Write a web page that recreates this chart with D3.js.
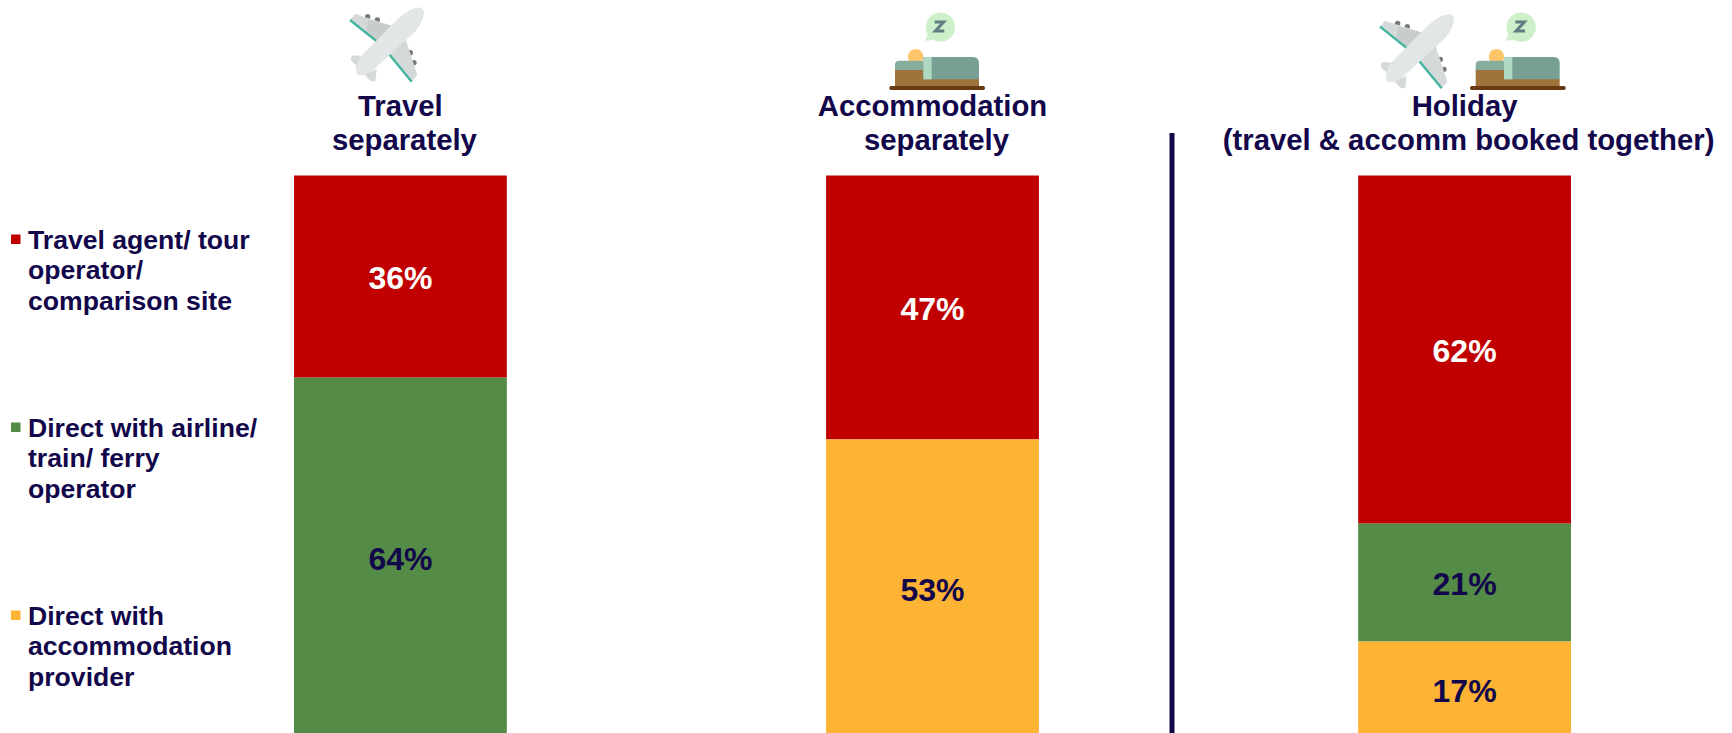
<!DOCTYPE html>
<html>
<head>
<meta charset="utf-8">
<script src="https://d3js.org/d3.v7.min.js"></script>
<style>
  html, body { margin: 0; padding: 0; background: #fff; }
  svg { display: block; }
  text { font-family: "Liberation Sans", Arial, sans-serif; font-weight: bold; }
</style>
</head>
<body>
<div id="chart"></div>
<script>
// values
const groups = ['Travel separately', 'Accommodation separately', 'Holiday'];
const seriesNames = ['agent', 'airline', 'accommodation'];
const agentValues = [36, 47, 62];
const airlineValues = [64, 0, 21];
const accommodationValues = [0, 53, 17];

const titleLines = [
  ['Travel', 'separately'],
  ['Accommodation', 'separately'],
  ['Holiday', '(travel & accomm booked together)']
];
const legendLines = [
  ['Travel agent/ tour', 'operator/', 'comparison site'],
  ['Direct with airline/', 'train/ ferry', 'operator'],
  ['Direct with', 'accommodation', 'provider']
];

const navy = '#12074a';
const seriesColors = ['#c00000', '#548b47', '#fdb333'];
const labelColors = ['#ffffff', navy, navy];

const width = 1732, height = 733;

const rows = groups.map((g, i) => ({
  group: g,
  agent: agentValues[i],
  airline: airlineValues[i],
  accommodation: accommodationValues[i]
}));

const x = d3.scaleBand().domain(groups).range([294, 1571]).paddingInner(0.6);
const y = d3.scaleLinear().domain([0, 100]).range([175.5, 737]);
const color = d3.scaleOrdinal().domain(seriesNames).range(seriesColors);
const labelColor = d3.scaleOrdinal().domain(seriesNames).range(labelColors);

const svg = d3.select('#chart').append('svg')
    .attr('width', width)
    .attr('height', height)
    .attr('viewBox', [0, 0, width, height].join(' '));

const defs = svg.append('defs');
defs.append('filter').attr('id', 'soft')
    .attr('x', '-300%').attr('width', '700%')
    .append('feGaussianBlur').attr('stdDeviation', 1.6);

// stacked bars
const stacked = d3.stack().keys(seriesNames)(rows);

const layer = svg.selectAll('.layer')
  .data(stacked)
  .enter().append('g')
    .attr('class', 'layer')
    .attr('fill', d => color(d.key));

layer.selectAll('rect')
  .data(d => d.filter(p => p[1] > p[0]))
  .enter().append('rect')
    .attr('x', d => x(d.data.group))
    .attr('y', d => y(d[0]))
    .attr('width', x.bandwidth())
    .attr('height', d => y(d[1]) - y(d[0]));

layer.selectAll('text')
  .data(d => d.filter(p => p[1] > p[0]).map(p => ({ p: p, key: d.key })))
  .enter().append('text')
    .attr('x', d => x(d.p.data.group) + x.bandwidth() / 2)
    .attr('y', d => (y(d.p[0]) + y(d.p[1])) / 2 + 12.5)
    .attr('text-anchor', 'middle')
    .attr('font-size', 32)
    .attr('fill', d => labelColor(d.key))
    .text(d => (d.p[1] - d.p[0]) + '%');

// column titles, the second line sits a little right of centre in the original
const titles = svg.selectAll('.title')
  .data(groups)
  .enter().append('text')
    .attr('class', 'title')
    .attr('text-anchor', 'middle')
    .attr('font-size', 29.3)
    .attr('fill', navy);

titles.selectAll('tspan')
  .data((d, i) => titleLines[i].map(t => ({ t: t, group: d })))
  .enter().append('tspan')
    .attr('x', (d, i) => x(d.group) + x.bandwidth() / 2 + (i ? 4 : 0))
    .attr('y', (d, i) => 116 + i * 33.5)
    .text(d => d.t);

// legend down the left side
const legendY = d3.scalePoint().domain(seriesNames).range([248.5, 624.5]);

const legend = svg.selectAll('.legend')
  .data(seriesNames)
  .enter().append('g')
    .attr('class', 'legend')
    .attr('transform', d => 'translate(0,' + legendY(d) + ')');

legend.append('rect')
    .attr('x', 11)
    .attr('y', -14)
    .attr('width', 9.5)
    .attr('height', 9.5)
    .attr('fill', d => color(d));

legend.append('text')
    .attr('font-size', 26.6)
    .attr('fill', navy)
  .selectAll('tspan')
  .data((d, i) => legendLines[i])
  .enter().append('tspan')
    .attr('x', 28)
    .attr('y', (d, i) => i * 30.5)
    .text(d => d);

// divider before the holiday column
svg.append('line')
    .attr('x1', 1172).attr('x2', 1172)
    .attr('y1', 133).attr('y2', height)
    .attr('stroke', '#8a8a8a')
    .attr('stroke-width', 8)
    .attr('filter', 'url(#soft)');
svg.append('line')
    .attr('x1', 1172).attr('x2', 1172)
    .attr('y1', 133).attr('y2', height)
    .attr('stroke', navy)
    .attr('stroke-width', 5);

// icons, outlined at 3x so the numbers match the zoomed crops
function plane(px, py) {
  const g = svg.append('g').attr('transform', 'translate(' + px + ',' + py + ') scale(0.3333)');
  g.selectAll('.engine')
    .data([[203, 50], [232, 60], [331, 158], [342, 188]])
    .enter().append('circle')
      .attr('cx', d => d[0]).attr('cy', d => d[1]).attr('r', 8)
      .attr('fill', '#77797a');
  g.append('path').attr('fill', '#d5d9d9')
    .attr('d', 'M150,60 L165,42 L278,78 L235,128 Z');
  g.append('path').attr('fill', '#c7cccc')
    .attr('d', 'M205,60 L278,78 L235,128 L198,98 Z');
  g.append('path').attr('fill', '#d5d9d9')
    .attr('d', 'M265,160 L315,112 L352,225 L335,245 Z');
  g.append('path').attr('fill', 'none').attr('stroke', '#3fb59f').attr('stroke-width', 7)
    .attr('d', 'M150,60 L235,128 M265,160 L335,245');
  g.append('path').attr('fill', '#d5d9d9')
    .attr('d', 'M190,168 L160,166 Q148,172 155,184 L178,205 Z');
  g.append('path').attr('fill', '#d5d9d9')
    .attr('d', 'M192,222 L206,238 Q216,248 226,244 L230,208 Z');
  g.append('path').attr('fill', '#e2e6e7')
    .attr('d', 'M335,28 Q368,14 372,36 Q372,62 345,95 L225,205 Q195,232 172,225 Q160,205 180,172 L290,60 Q315,38 335,28 Z');
}

function bed(px, py) {
  const g = svg.append('g').attr('transform', 'translate(' + px + ',' + py + ') scale(0.3333)');
  g.append('path').attr('fill', '#cdefc9')
    .attr('d', 'M195,122 L203,103 A44,44 0 1 1 220,120 Q208,120 195,122 Z');
  g.append('path').attr('fill', 'none').attr('stroke', '#5f7f85').attr('stroke-width', 9)
    .attr('d', 'M224,66 H251 L226,93 H253');
  g.append('circle').attr('cx', 167).attr('cy', 170).attr('r', 23).attr('fill', '#ffc56b');
  g.append('path').attr('fill', '#a0733d')
    .attr('d', 'M105,208 H192 V236 H357 V260 H105 Z');
  g.append('path').attr('fill', '#86ae9c')
    .attr('d', 'M105,210 V195 Q105,182 118,182 H192 V210 Z');
  g.append('path').attr('fill', '#789f94')
    .attr('d', 'M190,171 H338 Q357,171 357,190 V238 H190 Z');
  g.append('rect').attr('x', 190).attr('y', 171).attr('width', 25).attr('height', 67).attr('fill', '#b0d9c4');
  g.append('rect').attr('x', 88).attr('y', 258).attr('width', 287).attr('height', 12).attr('rx', 5).attr('fill', '#6b3a12');
}

plane(300, 0);
bed(860, 0);
plane(1330, 6.7);
bed(1440.7, 0);
</script>
</body>
</html>
